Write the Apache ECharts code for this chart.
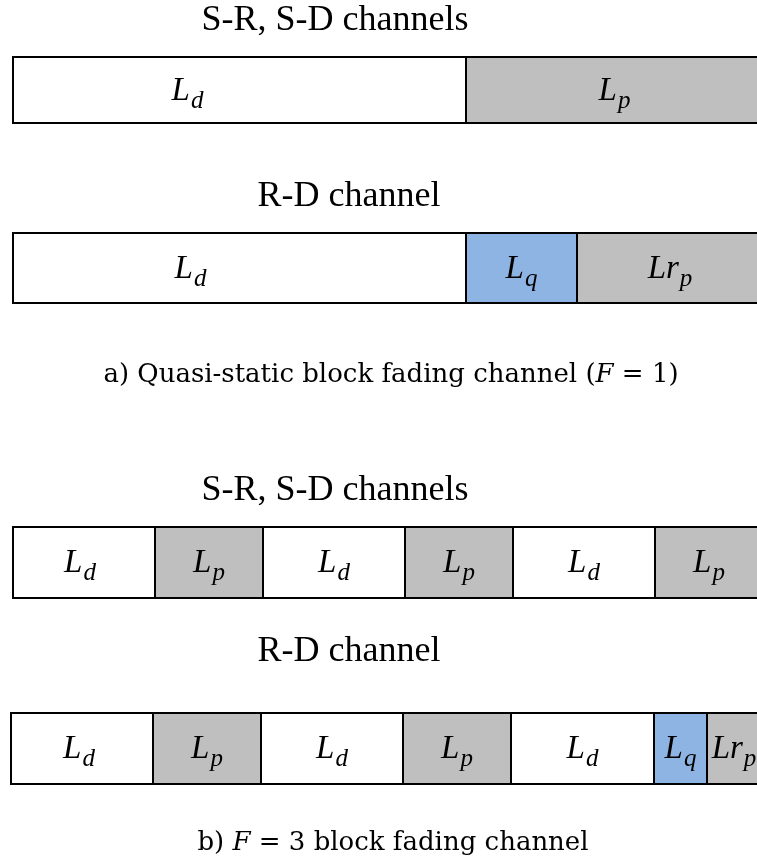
<!DOCTYPE html>
<html>
<head>
<meta charset="utf-8">
<script src="https://cdn.jsdelivr.net/npm/echarts@6/dist/echarts.min.js"></script>
<style>
html,body{margin:0;padding:0;background:#fff;}
#chart{width:757px;height:865px;}
</style>
</head>
<body>
<div id="chart"></div>
<script>
// ---- data ----
const rowTitles = ['S-R, S-D channels', 'R-D channel', 'S-R, S-D channels', 'R-D channel'];
const captionB = 'block fading channel';

// segment kinds and lengths (frame length units) for each row
const row1Kinds = ['d', 'p'];
const row1Lengths = [453, 297];
const row2Kinds = ['d', 'q', 'rp'];
const row2Lengths = [453, 111, 186];
const row3Kinds = ['d', 'p', 'd', 'p', 'd', 'p'];
const row3Lengths = [142, 108, 142, 108, 142, 108];
const row4Kinds = ['d', 'p', 'd', 'p', 'd', 'q', 'rp'];
const row4Lengths = [142, 108, 142, 108, 143, 53, 54];
const frameTotal = 750;

// ---- styles ----
const fillOf = { d: '#FFFFFF', p: '#BFBFBF', q: '#8EB4E3', rp: '#BFBFBF' };
const mainOf = { d: 'L', p: 'L', q: 'L', rp: 'Lr' };
const subOf = { d: 'd', p: 'p', q: 'q', rp: 'p' };

const W = 757;
const rows = [
  { kinds: row1Kinds, lengths: row1Lengths, left: 13, top: 57, height: 66, firstDx: -52 },
  { kinds: row2Kinds, lengths: row2Lengths, left: 13, top: 233, height: 70, firstDx: -49 },
  { kinds: row3Kinds, lengths: row3Lengths, left: 13, top: 527, height: 71, firstDx: -4 },
  { kinds: row4Kinds, lengths: row4Lengths, left: 11, top: 713, height: 71, firstDx: -3 }
];

const grids = [], xAxes = [], yAxes = [], series = [];
rows.forEach((r, i) => {
  // 1 frame unit = 1 px; the frame runs past the right edge of the page
  grids.push({ left: r.left, top: r.top, height: r.height, right: 0 });
  xAxes.push({ type: 'value', gridIndex: i, min: 0, max: W - r.left, show: false });
  yAxes.push({ type: 'category', gridIndex: i, data: ['frame'], show: false });
  let acc = 0;
  const data = r.lengths.map((len) => { const s = acc; acc += len; return [s, acc, 0]; });
  const kinds = r.kinds;
  series.push({
    type: 'custom',
    xAxisIndex: i, yAxisIndex: i,
    encode: { x: [0, 1], y: 2 },
    data: data,
    silent: true,
    clip: false,
    animation: false,
    renderItem: function (params, api) {
      const k = kinds[params.dataIndex];
      const p0 = api.coord([api.value(0), 0]);
      const p1 = api.coord([api.value(1), 0]);
      const h = api.size([0, 1])[1];
      const dx = params.dataIndex === 0 ? r.firstDx : 0;
      return {
        type: 'group',
        children: [
          {
            type: 'rect',
            shape: { x: p0[0], y: p0[1] - h / 2, width: p1[0] - p0[0], height: h },
            style: { fill: fillOf[k], stroke: '#000', lineWidth: 2 }
          },
          {
            type: 'text',
            style: {
              x: (p0[0] + p1[0]) / 2 + dx,
              y: p0[1] + 1,
              align: 'center',
              verticalAlign: 'middle',
              text: '{m|' + mainOf[k] + '}{s|' + subOf[k] + '}',
              rich: {
                m: { fontFamily: 'Liberation Serif', fontStyle: 'italic', fontSize: 33, lineHeight: 33, fill: '#000' },
                s: { fontFamily: 'Liberation Serif', fontStyle: 'italic', fontSize: 25, lineHeight: 25, padding: [20, 0, 0, 1], fill: '#000' }
              }
            }
          }
        ]
      };
    }
  });
});

const titleStyle = { fontFamily: 'Liberation Serif', fontSize: 36, fill: '#000', verticalAlign: 'middle', align: 'center' };
const titlePos = [[335, 21], [349, 197], [335, 491], [349, 652]];
const graphics = rowTitles.map((t, i) => ({
  type: 'text', x: titlePos[i][0], y: titlePos[i][1], silent: true,
  style: Object.assign({ text: t }, titleStyle)
}));
const capRich = {
  n: { fontFamily: 'DejaVu Serif', fontSize: 26, fill: '#000' },
  i: { fontFamily: 'DejaVu Serif', fontStyle: 'italic', fontSize: 26, fill: '#000' }
};
graphics.push({
  type: 'text', x: 391, y: 375, silent: true,
  style: { text: '{n|a) Quasi-static block fading channel (}{i|F}{n| = 1)}', rich: capRich, align: 'center', verticalAlign: 'middle' }
});
graphics.push({
  type: 'text', x: 393, y: 843, silent: true,
  style: { text: '{n|b) }{i|F}{n| = 3 ' + captionB + '}', rich: capRich, align: 'center', verticalAlign: 'middle' }
});

const chart = echarts.init(document.getElementById('chart'), null, { renderer: 'canvas' });
chart.setOption({
  backgroundColor: '#fff',
  animation: false,
  grid: grids,
  xAxis: xAxes,
  yAxis: yAxes,
  series: series,
  graphic: graphics
});
</script>
</body>
</html>
